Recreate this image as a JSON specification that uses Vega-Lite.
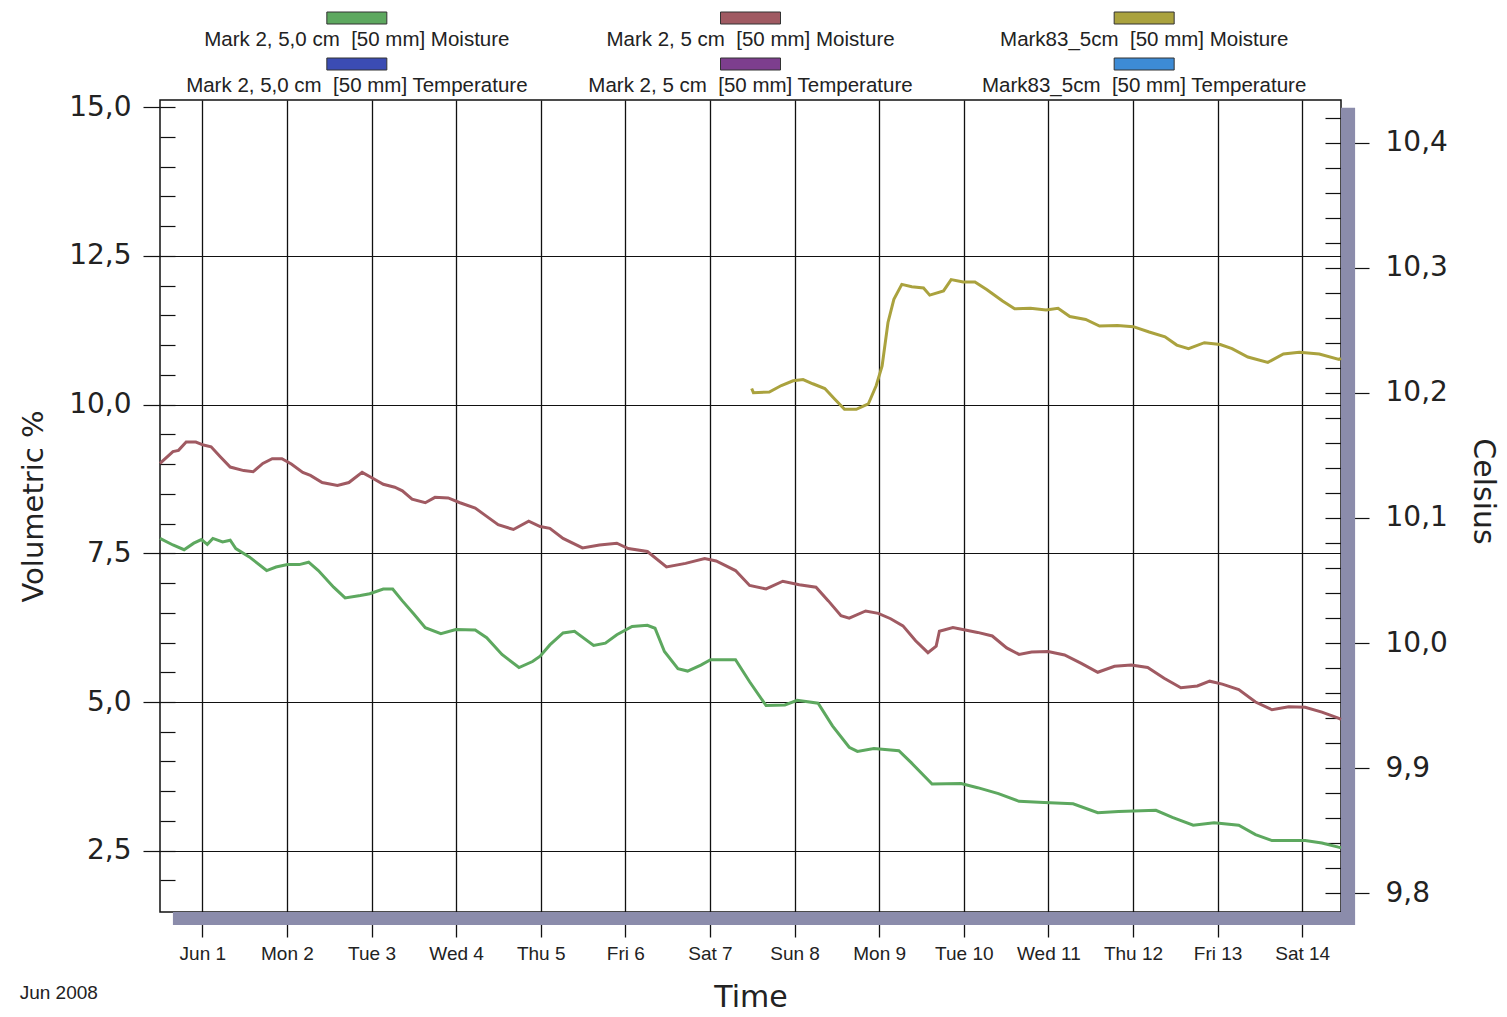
{
"$schema": "https://vega.github.io/schema/vega-lite/v6.json",
"width": 1181,
"height": 812,
"autosize": {"type": "none"},
"padding": {"left": 160, "top": 100, "right": 166, "bottom": 105},
"background": "white",
"config": {"view": {"stroke": "#111", "strokeWidth": 1.5, "fill": "white"}, "font": "Liberation Sans"},
"title": {"text": "Jun 2008", "orient": "bottom", "anchor": "start", "frame": "bounds", "offset": -28, "fontSize": 19, "font": "Liberation Sans", "fontWeight": "normal", "color": "#222"},
"datasets": {
"moisture": [
{"t":"2008-05-31T12:00","v":9.01,"series":"Mark 2, 5 cm [50 mm] Moisture"},
{"t":"2008-05-31T15:40","v":9.21,"series":"Mark 2, 5 cm [50 mm] Moisture"},
{"t":"2008-05-31T17:15","v":9.23,"series":"Mark 2, 5 cm [50 mm] Moisture"},
{"t":"2008-05-31T19:25","v":9.37,"series":"Mark 2, 5 cm [50 mm] Moisture"},
{"t":"2008-05-31T22:10","v":9.37,"series":"Mark 2, 5 cm [50 mm] Moisture"},
{"t":"2008-06-01T00:20","v":9.32,"series":"Mark 2, 5 cm [50 mm] Moisture"},
{"t":"2008-06-01T02:30","v":9.29,"series":"Mark 2, 5 cm [50 mm] Moisture"},
{"t":"2008-06-01T05:10","v":9.12,"series":"Mark 2, 5 cm [50 mm] Moisture"},
{"t":"2008-06-01T07:55","v":8.95,"series":"Mark 2, 5 cm [50 mm] Moisture"},
{"t":"2008-06-01T11:45","v":8.89,"series":"Mark 2, 5 cm [50 mm] Moisture"},
{"t":"2008-06-01T14:25","v":8.87,"series":"Mark 2, 5 cm [50 mm] Moisture"},
{"t":"2008-06-01T17:10","v":9.01,"series":"Mark 2, 5 cm [50 mm] Moisture"},
{"t":"2008-06-01T19:50","v":9.09,"series":"Mark 2, 5 cm [50 mm] Moisture"},
{"t":"2008-06-01T22:35","v":9.09,"series":"Mark 2, 5 cm [50 mm] Moisture"},
{"t":"2008-06-02T01:15","v":9.00,"series":"Mark 2, 5 cm [50 mm] Moisture"},
{"t":"2008-06-02T04:30","v":8.86,"series":"Mark 2, 5 cm [50 mm] Moisture"},
{"t":"2008-06-02T06:40","v":8.81,"series":"Mark 2, 5 cm [50 mm] Moisture"},
{"t":"2008-06-02T10:00","v":8.69,"series":"Mark 2, 5 cm [50 mm] Moisture"},
{"t":"2008-06-02T14:20","v":8.64,"series":"Mark 2, 5 cm [50 mm] Moisture"},
{"t":"2008-06-02T17:35","v":8.69,"series":"Mark 2, 5 cm [50 mm] Moisture"},
{"t":"2008-06-02T21:20","v":8.86,"series":"Mark 2, 5 cm [50 mm] Moisture"},
{"t":"2008-06-03T00:05","v":8.77,"series":"Mark 2, 5 cm [50 mm] Moisture"},
{"t":"2008-06-03T03:20","v":8.66,"series":"Mark 2, 5 cm [50 mm] Moisture"},
{"t":"2008-06-03T06:35","v":8.61,"series":"Mark 2, 5 cm [50 mm] Moisture"},
{"t":"2008-06-03T08:45","v":8.55,"series":"Mark 2, 5 cm [50 mm] Moisture"},
{"t":"2008-06-03T11:30","v":8.41,"series":"Mark 2, 5 cm [50 mm] Moisture"},
{"t":"2008-06-03T15:15","v":8.35,"series":"Mark 2, 5 cm [50 mm] Moisture"},
{"t":"2008-06-03T18:00","v":8.44,"series":"Mark 2, 5 cm [50 mm] Moisture"},
{"t":"2008-06-03T21:45","v":8.43,"series":"Mark 2, 5 cm [50 mm] Moisture"},
{"t":"2008-06-04T01:05","v":8.35,"series":"Mark 2, 5 cm [50 mm] Moisture"},
{"t":"2008-06-04T05:25","v":8.26,"series":"Mark 2, 5 cm [50 mm] Moisture"},
{"t":"2008-06-04T08:40","v":8.12,"series":"Mark 2, 5 cm [50 mm] Moisture"},
{"t":"2008-06-04T11:55","v":7.98,"series":"Mark 2, 5 cm [50 mm] Moisture"},
{"t":"2008-06-04T16:15","v":7.90,"series":"Mark 2, 5 cm [50 mm] Moisture"},
{"t":"2008-06-04T20:35","v":8.04,"series":"Mark 2, 5 cm [50 mm] Moisture"},
{"t":"2008-06-04T23:50","v":7.95,"series":"Mark 2, 5 cm [50 mm] Moisture"},
{"t":"2008-06-05T02:35","v":7.92,"series":"Mark 2, 5 cm [50 mm] Moisture"},
{"t":"2008-06-05T06:20","v":7.75,"series":"Mark 2, 5 cm [50 mm] Moisture"},
{"t":"2008-06-05T11:50","v":7.59,"series":"Mark 2, 5 cm [50 mm] Moisture"},
{"t":"2008-06-05T16:40","v":7.64,"series":"Mark 2, 5 cm [50 mm] Moisture"},
{"t":"2008-06-05T21:35","v":7.67,"series":"Mark 2, 5 cm [50 mm] Moisture"},
{"t":"2008-06-06T00:50","v":7.58,"series":"Mark 2, 5 cm [50 mm] Moisture"},
{"t":"2008-06-06T06:15","v":7.53,"series":"Mark 2, 5 cm [50 mm] Moisture"},
{"t":"2008-06-06T11:40","v":7.27,"series":"Mark 2, 5 cm [50 mm] Moisture"},
{"t":"2008-06-06T17:05","v":7.33,"series":"Mark 2, 5 cm [50 mm] Moisture"},
{"t":"2008-06-06T22:30","v":7.41,"series":"Mark 2, 5 cm [50 mm] Moisture"},
{"t":"2008-06-07T01:45","v":7.37,"series":"Mark 2, 5 cm [50 mm] Moisture"},
{"t":"2008-06-07T07:15","v":7.21,"series":"Mark 2, 5 cm [50 mm] Moisture"},
{"t":"2008-06-07T11:15","v":6.96,"series":"Mark 2, 5 cm [50 mm] Moisture"},
{"t":"2008-06-07T15:55","v":6.90,"series":"Mark 2, 5 cm [50 mm] Moisture"},
{"t":"2008-06-07T20:40","v":7.03,"series":"Mark 2, 5 cm [50 mm] Moisture"},
{"t":"2008-06-08T01:20","v":6.97,"series":"Mark 2, 5 cm [50 mm] Moisture"},
{"t":"2008-06-08T06:05","v":6.93,"series":"Mark 2, 5 cm [50 mm] Moisture"},
{"t":"2008-06-08T09:35","v":6.70,"series":"Mark 2, 5 cm [50 mm] Moisture"},
{"t":"2008-06-08T13:10","v":6.45,"series":"Mark 2, 5 cm [50 mm] Moisture"},
{"t":"2008-06-08T15:30","v":6.41,"series":"Mark 2, 5 cm [50 mm] Moisture"},
{"t":"2008-06-08T20:10","v":6.53,"series":"Mark 2, 5 cm [50 mm] Moisture"},
{"t":"2008-06-08T23:45","v":6.49,"series":"Mark 2, 5 cm [50 mm] Moisture"},
{"t":"2008-06-09T03:15","v":6.40,"series":"Mark 2, 5 cm [50 mm] Moisture"},
{"t":"2008-06-09T06:45","v":6.28,"series":"Mark 2, 5 cm [50 mm] Moisture"},
{"t":"2008-06-09T10:20","v":6.03,"series":"Mark 2, 5 cm [50 mm] Moisture"},
{"t":"2008-06-09T13:50","v":5.83,"series":"Mark 2, 5 cm [50 mm] Moisture"},
{"t":"2008-06-09T16:10","v":5.94,"series":"Mark 2, 5 cm [50 mm] Moisture"},
{"t":"2008-06-09T17:05","v":6.19,"series":"Mark 2, 5 cm [50 mm] Moisture"},
{"t":"2008-06-09T20:55","v":6.25,"series":"Mark 2, 5 cm [50 mm] Moisture"},
{"t":"2008-06-10T00:25","v":6.21,"series":"Mark 2, 5 cm [50 mm] Moisture"},
{"t":"2008-06-10T03:55","v":6.17,"series":"Mark 2, 5 cm [50 mm] Moisture"},
{"t":"2008-06-10T08:05","v":6.11,"series":"Mark 2, 5 cm [50 mm] Moisture"},
{"t":"2008-06-10T12:10","v":5.91,"series":"Mark 2, 5 cm [50 mm] Moisture"},
{"t":"2008-06-10T15:40","v":5.80,"series":"Mark 2, 5 cm [50 mm] Moisture"},
{"t":"2008-06-10T19:15","v":5.84,"series":"Mark 2, 5 cm [50 mm] Moisture"},
{"t":"2008-06-10T23:55","v":5.85,"series":"Mark 2, 5 cm [50 mm] Moisture"},
{"t":"2008-06-11T04:35","v":5.79,"series":"Mark 2, 5 cm [50 mm] Moisture"},
{"t":"2008-06-11T09:20","v":5.65,"series":"Mark 2, 5 cm [50 mm] Moisture"},
{"t":"2008-06-11T14:00","v":5.50,"series":"Mark 2, 5 cm [50 mm] Moisture"},
{"t":"2008-06-11T18:45","v":5.60,"series":"Mark 2, 5 cm [50 mm] Moisture"},
{"t":"2008-06-11T23:30","v":5.62,"series":"Mark 2, 5 cm [50 mm] Moisture"},
{"t":"2008-06-12T04:10","v":5.58,"series":"Mark 2, 5 cm [50 mm] Moisture"},
{"t":"2008-06-12T08:50","v":5.40,"series":"Mark 2, 5 cm [50 mm] Moisture"},
{"t":"2008-06-12T13:35","v":5.24,"series":"Mark 2, 5 cm [50 mm] Moisture"},
{"t":"2008-06-12T18:15","v":5.27,"series":"Mark 2, 5 cm [50 mm] Moisture"},
{"t":"2008-06-12T21:45","v":5.35,"series":"Mark 2, 5 cm [50 mm] Moisture"},
{"t":"2008-06-13T01:20","v":5.30,"series":"Mark 2, 5 cm [50 mm] Moisture"},
{"t":"2008-06-13T06:00","v":5.21,"series":"Mark 2, 5 cm [50 mm] Moisture"},
{"t":"2008-06-13T10:45","v":5.00,"series":"Mark 2, 5 cm [50 mm] Moisture"},
{"t":"2008-06-13T15:25","v":4.87,"series":"Mark 2, 5 cm [50 mm] Moisture"},
{"t":"2008-06-13T20:10","v":4.92,"series":"Mark 2, 5 cm [50 mm] Moisture"},
{"t":"2008-06-14T00:50","v":4.91,"series":"Mark 2, 5 cm [50 mm] Moisture"},
{"t":"2008-06-14T05:35","v":4.83,"series":"Mark 2, 5 cm [50 mm] Moisture"},
{"t":"2008-06-14T10:15","v":4.73,"series":"Mark 2, 5 cm [50 mm] Moisture"},
{"t":"2008-06-14T11:00","v":4.71,"series":"Mark 2, 5 cm [50 mm] Moisture"},
{"t":"2008-05-31T12:00","v":7.75,"series":"Mark 2, 5,0 cm [50 mm] Moisture"},
{"t":"2008-05-31T15:40","v":7.64,"series":"Mark 2, 5,0 cm [50 mm] Moisture"},
{"t":"2008-05-31T18:50","v":7.56,"series":"Mark 2, 5,0 cm [50 mm] Moisture"},
{"t":"2008-05-31T21:35","v":7.67,"series":"Mark 2, 5,0 cm [50 mm] Moisture"},
{"t":"2008-05-31T23:45","v":7.73,"series":"Mark 2, 5,0 cm [50 mm] Moisture"},
{"t":"2008-06-01T01:25","v":7.65,"series":"Mark 2, 5,0 cm [50 mm] Moisture"},
{"t":"2008-06-01T03:00","v":7.75,"series":"Mark 2, 5,0 cm [50 mm] Moisture"},
{"t":"2008-06-01T05:45","v":7.69,"series":"Mark 2, 5,0 cm [50 mm] Moisture"},
{"t":"2008-06-01T07:55","v":7.72,"series":"Mark 2, 5,0 cm [50 mm] Moisture"},
{"t":"2008-06-01T09:30","v":7.58,"series":"Mark 2, 5,0 cm [50 mm] Moisture"},
{"t":"2008-06-01T13:20","v":7.44,"series":"Mark 2, 5,0 cm [50 mm] Moisture"},
{"t":"2008-06-01T18:15","v":7.21,"series":"Mark 2, 5,0 cm [50 mm] Moisture"},
{"t":"2008-06-01T20:55","v":7.27,"series":"Mark 2, 5,0 cm [50 mm] Moisture"},
{"t":"2008-06-02T00:10","v":7.31,"series":"Mark 2, 5,0 cm [50 mm] Moisture"},
{"t":"2008-06-02T03:30","v":7.31,"series":"Mark 2, 5,0 cm [50 mm] Moisture"},
{"t":"2008-06-02T06:10","v":7.35,"series":"Mark 2, 5,0 cm [50 mm] Moisture"},
{"t":"2008-06-02T08:55","v":7.21,"series":"Mark 2, 5,0 cm [50 mm] Moisture"},
{"t":"2008-06-02T13:15","v":6.93,"series":"Mark 2, 5,0 cm [50 mm] Moisture"},
{"t":"2008-06-02T16:30","v":6.75,"series":"Mark 2, 5,0 cm [50 mm] Moisture"},
{"t":"2008-06-02T20:50","v":6.79,"series":"Mark 2, 5,0 cm [50 mm] Moisture"},
{"t":"2008-06-02T23:30","v":6.82,"series":"Mark 2, 5,0 cm [50 mm] Moisture"},
{"t":"2008-06-03T03:20","v":6.90,"series":"Mark 2, 5,0 cm [50 mm] Moisture"},
{"t":"2008-06-03T06:00","v":6.90,"series":"Mark 2, 5,0 cm [50 mm] Moisture"},
{"t":"2008-06-03T08:45","v":6.70,"series":"Mark 2, 5,0 cm [50 mm] Moisture"},
{"t":"2008-06-03T12:00","v":6.48,"series":"Mark 2, 5,0 cm [50 mm] Moisture"},
{"t":"2008-06-03T15:15","v":6.25,"series":"Mark 2, 5,0 cm [50 mm] Moisture"},
{"t":"2008-06-03T19:40","v":6.15,"series":"Mark 2, 5,0 cm [50 mm] Moisture"},
{"t":"2008-06-03T23:55","v":6.22,"series":"Mark 2, 5,0 cm [50 mm] Moisture"},
{"t":"2008-06-04T05:25","v":6.21,"series":"Mark 2, 5,0 cm [50 mm] Moisture"},
{"t":"2008-06-04T08:40","v":6.08,"series":"Mark 2, 5,0 cm [50 mm] Moisture"},
{"t":"2008-06-04T13:00","v":5.80,"series":"Mark 2, 5,0 cm [50 mm] Moisture"},
{"t":"2008-06-04T17:50","v":5.58,"series":"Mark 2, 5,0 cm [50 mm] Moisture"},
{"t":"2008-06-04T21:40","v":5.68,"series":"Mark 2, 5,0 cm [50 mm] Moisture"},
{"t":"2008-06-04T23:50","v":5.77,"series":"Mark 2, 5,0 cm [50 mm] Moisture"},
{"t":"2008-06-05T02:35","v":5.96,"series":"Mark 2, 5,0 cm [50 mm] Moisture"},
{"t":"2008-06-05T06:20","v":6.16,"series":"Mark 2, 5,0 cm [50 mm] Moisture"},
{"t":"2008-06-05T09:35","v":6.19,"series":"Mark 2, 5,0 cm [50 mm] Moisture"},
{"t":"2008-06-05T15:00","v":5.95,"series":"Mark 2, 5,0 cm [50 mm] Moisture"},
{"t":"2008-06-05T18:20","v":5.99,"series":"Mark 2, 5,0 cm [50 mm] Moisture"},
{"t":"2008-06-05T21:35","v":6.13,"series":"Mark 2, 5,0 cm [50 mm] Moisture"},
{"t":"2008-06-06T01:55","v":6.27,"series":"Mark 2, 5,0 cm [50 mm] Moisture"},
{"t":"2008-06-06T06:15","v":6.29,"series":"Mark 2, 5,0 cm [50 mm] Moisture"},
{"t":"2008-06-06T08:25","v":6.24,"series":"Mark 2, 5,0 cm [50 mm] Moisture"},
{"t":"2008-06-06T11:05","v":5.85,"series":"Mark 2, 5,0 cm [50 mm] Moisture"},
{"t":"2008-06-06T14:55","v":5.56,"series":"Mark 2, 5,0 cm [50 mm] Moisture"},
{"t":"2008-06-06T17:40","v":5.52,"series":"Mark 2, 5,0 cm [50 mm] Moisture"},
{"t":"2008-06-06T21:25","v":5.62,"series":"Mark 2, 5,0 cm [50 mm] Moisture"},
{"t":"2008-06-07T00:10","v":5.71,"series":"Mark 2, 5,0 cm [50 mm] Moisture"},
{"t":"2008-06-07T07:15","v":5.71,"series":"Mark 2, 5,0 cm [50 mm] Moisture"},
{"t":"2008-06-07T11:15","v":5.34,"series":"Mark 2, 5,0 cm [50 mm] Moisture"},
{"t":"2008-06-07T15:55","v":4.94,"series":"Mark 2, 5,0 cm [50 mm] Moisture"},
{"t":"2008-06-07T21:15","v":4.95,"series":"Mark 2, 5,0 cm [50 mm] Moisture"},
{"t":"2008-06-08T00:45","v":5.03,"series":"Mark 2, 5,0 cm [50 mm] Moisture"},
{"t":"2008-06-08T06:40","v":4.98,"series":"Mark 2, 5,0 cm [50 mm] Moisture"},
{"t":"2008-06-08T10:45","v":4.60,"series":"Mark 2, 5,0 cm [50 mm] Moisture"},
{"t":"2008-06-08T15:30","v":4.24,"series":"Mark 2, 5,0 cm [50 mm] Moisture"},
{"t":"2008-06-08T17:50","v":4.17,"series":"Mark 2, 5,0 cm [50 mm] Moisture"},
{"t":"2008-06-08T22:30","v":4.22,"series":"Mark 2, 5,0 cm [50 mm] Moisture"},
{"t":"2008-06-09T05:35","v":4.18,"series":"Mark 2, 5,0 cm [50 mm] Moisture"},
{"t":"2008-06-09T09:05","v":3.98,"series":"Mark 2, 5,0 cm [50 mm] Moisture"},
{"t":"2008-06-09T15:00","v":3.62,"series":"Mark 2, 5,0 cm [50 mm] Moisture"},
{"t":"2008-06-09T23:15","v":3.63,"series":"Mark 2, 5,0 cm [50 mm] Moisture"},
{"t":"2008-06-10T03:55","v":3.56,"series":"Mark 2, 5,0 cm [50 mm] Moisture"},
{"t":"2008-06-10T09:50","v":3.46,"series":"Mark 2, 5,0 cm [50 mm] Moisture"},
{"t":"2008-06-10T15:40","v":3.33,"series":"Mark 2, 5,0 cm [50 mm] Moisture"},
{"t":"2008-06-10T22:45","v":3.31,"series":"Mark 2, 5,0 cm [50 mm] Moisture"},
{"t":"2008-06-11T07:00","v":3.29,"series":"Mark 2, 5,0 cm [50 mm] Moisture"},
{"t":"2008-06-11T14:00","v":3.14,"series":"Mark 2, 5,0 cm [50 mm] Moisture"},
{"t":"2008-06-11T19:55","v":3.16,"series":"Mark 2, 5,0 cm [50 mm] Moisture"},
{"t":"2008-06-12T06:30","v":3.18,"series":"Mark 2, 5,0 cm [50 mm] Moisture"},
{"t":"2008-06-12T11:10","v":3.06,"series":"Mark 2, 5,0 cm [50 mm] Moisture"},
{"t":"2008-06-12T17:05","v":2.93,"series":"Mark 2, 5,0 cm [50 mm] Moisture"},
{"t":"2008-06-12T23:00","v":2.97,"series":"Mark 2, 5,0 cm [50 mm] Moisture"},
{"t":"2008-06-13T06:00","v":2.93,"series":"Mark 2, 5,0 cm [50 mm] Moisture"},
{"t":"2008-06-13T10:45","v":2.77,"series":"Mark 2, 5,0 cm [50 mm] Moisture"},
{"t":"2008-06-13T15:25","v":2.67,"series":"Mark 2, 5,0 cm [50 mm] Moisture"},
{"t":"2008-06-14T00:50","v":2.67,"series":"Mark 2, 5,0 cm [50 mm] Moisture"},
{"t":"2008-06-14T05:35","v":2.63,"series":"Mark 2, 5,0 cm [50 mm] Moisture"},
{"t":"2008-06-14T10:15","v":2.56,"series":"Mark 2, 5,0 cm [50 mm] Moisture"},
{"t":"2008-06-14T11:00","v":2.55,"series":"Mark 2, 5,0 cm [50 mm] Moisture"},
{"t":"2008-06-07T11:50","v":10.27,"series":"Mark83_5cm [50 mm] Moisture"},
{"t":"2008-06-07T12:20","v":10.20,"series":"Mark83_5cm [50 mm] Moisture"},
{"t":"2008-06-07T16:50","v":10.21,"series":"Mark83_5cm [50 mm] Moisture"},
{"t":"2008-06-07T20:15","v":10.32,"series":"Mark83_5cm [50 mm] Moisture"},
{"t":"2008-06-07T23:35","v":10.40,"series":"Mark83_5cm [50 mm] Moisture"},
{"t":"2008-06-08T02:25","v":10.42,"series":"Mark83_5cm [50 mm] Moisture"},
{"t":"2008-06-08T05:10","v":10.35,"series":"Mark83_5cm [50 mm] Moisture"},
{"t":"2008-06-08T08:35","v":10.27,"series":"Mark83_5cm [50 mm] Moisture"},
{"t":"2008-06-08T11:25","v":10.09,"series":"Mark83_5cm [50 mm] Moisture"},
{"t":"2008-06-08T14:10","v":9.92,"series":"Mark83_5cm [50 mm] Moisture"},
{"t":"2008-06-08T17:30","v":9.92,"series":"Mark83_5cm [50 mm] Moisture"},
{"t":"2008-06-08T20:55","v":10.01,"series":"Mark83_5cm [50 mm] Moisture"},
{"t":"2008-06-08T23:10","v":10.32,"series":"Mark83_5cm [50 mm] Moisture"},
{"t":"2008-06-09T00:50","v":10.65,"series":"Mark83_5cm [50 mm] Moisture"},
{"t":"2008-06-09T02:30","v":11.38,"series":"Mark83_5cm [50 mm] Moisture"},
{"t":"2008-06-09T04:10","v":11.77,"series":"Mark83_5cm [50 mm] Moisture"},
{"t":"2008-06-09T06:25","v":12.02,"series":"Mark83_5cm [50 mm] Moisture"},
{"t":"2008-06-09T09:15","v":11.98,"series":"Mark83_5cm [50 mm] Moisture"},
{"t":"2008-06-09T12:35","v":11.96,"series":"Mark83_5cm [50 mm] Moisture"},
{"t":"2008-06-09T14:20","v":11.84,"series":"Mark83_5cm [50 mm] Moisture"},
{"t":"2008-06-09T18:15","v":11.91,"series":"Mark83_5cm [50 mm] Moisture"},
{"t":"2008-06-09T20:25","v":12.10,"series":"Mark83_5cm [50 mm] Moisture"},
{"t":"2008-06-09T23:50","v":12.06,"series":"Mark83_5cm [50 mm] Moisture"},
{"t":"2008-06-10T03:10","v":12.06,"series":"Mark83_5cm [50 mm] Moisture"},
{"t":"2008-06-10T06:35","v":11.93,"series":"Mark83_5cm [50 mm] Moisture"},
{"t":"2008-06-10T11:00","v":11.74,"series":"Mark83_5cm [50 mm] Moisture"},
{"t":"2008-06-10T14:25","v":11.61,"series":"Mark83_5cm [50 mm] Moisture"},
{"t":"2008-06-10T18:55","v":11.62,"series":"Mark83_5cm [50 mm] Moisture"},
{"t":"2008-06-10T23:20","v":11.59,"series":"Mark83_5cm [50 mm] Moisture"},
{"t":"2008-06-11T02:45","v":11.62,"series":"Mark83_5cm [50 mm] Moisture"},
{"t":"2008-06-11T06:05","v":11.48,"series":"Mark83_5cm [50 mm] Moisture"},
{"t":"2008-06-11T10:35","v":11.43,"series":"Mark83_5cm [50 mm] Moisture"},
{"t":"2008-06-11T14:30","v":11.32,"series":"Mark83_5cm [50 mm] Moisture"},
{"t":"2008-06-11T19:35","v":11.33,"series":"Mark83_5cm [50 mm] Moisture"},
{"t":"2008-06-12T00:05","v":11.31,"series":"Mark83_5cm [50 mm] Moisture"},
{"t":"2008-06-12T04:35","v":11.22,"series":"Mark83_5cm [50 mm] Moisture"},
{"t":"2008-06-12T09:05","v":11.14,"series":"Mark83_5cm [50 mm] Moisture"},
{"t":"2008-06-12T12:25","v":11.00,"series":"Mark83_5cm [50 mm] Moisture"},
{"t":"2008-06-12T15:45","v":10.94,"series":"Mark83_5cm [50 mm] Moisture"},
{"t":"2008-06-12T20:15","v":11.04,"series":"Mark83_5cm [50 mm] Moisture"},
{"t":"2008-06-13T00:45","v":11.01,"series":"Mark83_5cm [50 mm] Moisture"},
{"t":"2008-06-13T04:05","v":10.94,"series":"Mark83_5cm [50 mm] Moisture"},
{"t":"2008-06-13T08:35","v":10.80,"series":"Mark83_5cm [50 mm] Moisture"},
{"t":"2008-06-13T14:15","v":10.71,"series":"Mark83_5cm [50 mm] Moisture"},
{"t":"2008-06-13T18:40","v":10.85,"series":"Mark83_5cm [50 mm] Moisture"},
{"t":"2008-06-13T23:10","v":10.88,"series":"Mark83_5cm [50 mm] Moisture"},
{"t":"2008-06-14T04:50","v":10.85,"series":"Mark83_5cm [50 mm] Moisture"},
{"t":"2008-06-14T10:25","v":10.76,"series":"Mark83_5cm [50 mm] Moisture"},
{"t":"2008-06-14T11:00","v":10.78,"series":"Mark83_5cm [50 mm] Moisture"}
],
"legend": [
{"series":"Mark 2, 5,0 cm [50 mm] Moisture","label":"Mark 2, 5,0 cm\u00a0 [50 mm] Moisture","col":1,"row":"Moisture"},
{"series":"Mark 2, 5,0 cm [50 mm] Temperature","label":"Mark 2, 5,0 cm\u00a0 [50 mm] Temperature","col":1,"row":"Temperature"},
{"series":"Mark 2, 5 cm [50 mm] Moisture","label":"Mark 2, 5 cm\u00a0 [50 mm] Moisture","col":2,"row":"Moisture"},
{"series":"Mark 2, 5 cm [50 mm] Temperature","label":"Mark 2, 5 cm\u00a0 [50 mm] Temperature","col":2,"row":"Temperature"},
{"series":"Mark83_5cm [50 mm] Moisture","label":"Mark83_5cm\u00a0 [50 mm] Moisture","col":3,"row":"Moisture"},
{"series":"Mark83_5cm [50 mm] Temperature","label":"Mark83_5cm\u00a0 [50 mm] Temperature","col":3,"row":"Temperature"}
]
},
"resolve": {"scale": {"x": "independent", "y": "independent"}},
"layer": [
{
"data": {"values": [{}]},
"mark": {"type": "rect", "color": "#8b8cab"},
"encoding": {
"x": {"datum": {"year":2008,"month":5,"date":31,"hours":15,"minutes":40}, "type": "temporal", "scale": {"domain": [{"year":2008,"month":5,"date":31,"hours":12},{"year":2008,"month":6,"date":14,"hours":11}], "nice": false}, "axis": null},
"x2": {"datum": {"year":2008,"month":6,"date":14,"hours":15}},
"y": {"datum": 1.47, "type": "quantitative", "scale": {"domain": [1.47, 15.12], "nice": false, "zero": false}, "axis": null},
"y2": {"datum": 1.25}
}
},
{
"data": {"values": [{}]},
"mark": {"type": "rect", "color": "#8b8cab"},
"encoding": {
"x": {"datum": {"year":2008,"month":6,"date":14,"hours":11}, "type": "temporal", "scale": {"domain": [{"year":2008,"month":5,"date":31,"hours":12},{"year":2008,"month":6,"date":14,"hours":11}], "nice": false}, "axis": null},
"x2": {"datum": {"year":2008,"month":6,"date":14,"hours":15}},
"y": {"datum": 1.47, "type": "quantitative", "scale": {"domain": [1.47, 15.12], "nice": false, "zero": false}, "axis": null},
"y2": {"datum": 14.99}
}
},
{
"data": {"name": "moisture"},
"mark": {"type": "line", "strokeWidth": 3},
"encoding": {
"x": {"field": "t", "type": "temporal",
"scale": {"domain": [{"year":2008,"month":5,"date":31,"hours":12},{"year":2008,"month":6,"date":14,"hours":11}], "nice": false},
"axis": {"values": [{"year":2008,"month":6,"date":1},{"year":2008,"month":6,"date":2},{"year":2008,"month":6,"date":3},{"year":2008,"month":6,"date":4},{"year":2008,"month":6,"date":5},{"year":2008,"month":6,"date":6},{"year":2008,"month":6,"date":7},{"year":2008,"month":6,"date":8},{"year":2008,"month":6,"date":9},{"year":2008,"month":6,"date":10},{"year":2008,"month":6,"date":11},{"year":2008,"month":6,"date":12},{"year":2008,"month":6,"date":13},{"year":2008,"month":6,"date":14}],
"labelExpr": "date(datum.value) == 1 ? 'Jun 1' : timeFormat(datum.value, '%a') + ' ' + date(datum.value)",
"labelFlush": false, "labelOverlap": false, "labelAngle": 0,
"grid": true, "gridColor": "#111", "gridWidth": 1.3,
"tickSize": 25, "tickColor": "#111", "tickWidth": 1.3,
"labelPadding": 7, "labelFontSize": 19, "labelFont": "Liberation Sans", "labelColor": "#222",
"title": "Time", "titleFontSize": 30, "titleFont": "DejaVu Sans", "titleFontWeight": "normal", "titleColor": "#222", "titlePadding": 19,
"domain": false}},
"y": {"field": "v", "type": "quantitative",
"scale": {"domain": [1.47, 15.12], "nice": false, "zero": false},
"axis": {"orient": "left", "values": [2.5, 5, 7.5, 10, 12.5, 15],
"labelExpr": "replace(format(datum.value, '.1f'), '.', ',')",
"grid": true, "gridColor": "#111", "gridWidth": 1.2,
"gridOpacity": {"condition": {"test": "datum.value >= 15", "value": 0}, "value": 1},
"tickSize": 17, "tickColor": "#111", "tickWidth": 1.2,
"labelPadding": 12, "labelFontSize": 28, "labelFont": "DejaVu Sans", "labelColor": "#222",
"title": "Volumetric %", "titleFontSize": 29, "titleFont": "DejaVu Sans", "titleFontWeight": "normal", "titleColor": "#222", "titlePadding": 20,
"domain": false}},
"color": {"field": "series", "type": "nominal",
"scale": {"domain": ["Mark 2, 5,0 cm [50 mm] Moisture","Mark 2, 5,0 cm [50 mm] Temperature","Mark 2, 5 cm [50 mm] Moisture","Mark 2, 5 cm [50 mm] Temperature","Mark83_5cm [50 mm] Moisture","Mark83_5cm [50 mm] Temperature"],
"range": ["#5da85f","#3b4cb3","#a05a62","#7d3e8e","#aaa23e","#3d8bd5"]},
"legend": null}
}
},
{
"data": {"values": [{}]},
"mark": {"type": "rule", "opacity": 0},
"encoding": {
"y": {"datum": 5, "type": "quantitative", "scale": {"domain": [1.47, 15.12], "nice": false, "zero": false},
"axis": {"orient": "left", "values": [2, 2.5, 3, 3.5, 4, 4.5, 5, 5.5, 6, 6.5, 7, 7.5, 8, 8.5, 9, 9.5, 10, 10.5, 11, 11.5, 12, 12.5, 13, 13.5, 14, 14.5, 15],
"labels": false, "grid": false, "domain": false, "title": null,
"tickSize": -15, "tickColor": "#111", "tickWidth": 1.2}}
}
},
{
"data": {"values": [{}]},
"mark": {"type": "rule", "opacity": 0},
"encoding": {
"y": {"datum": 10, "type": "quantitative", "scale": {"domain": [9.785, 10.434], "nice": false, "zero": false},
"axis": {"orient": "right", "values": [9.8, 9.9, 10.0, 10.1, 10.2, 10.3, 10.4],
"labelExpr": "replace(format(datum.value, '.1f'), '.', ',')",
"grid": false, "domain": false,
"tickSize": 28, "tickColor": "#111", "tickWidth": 1.2,
"labelPadding": 16, "labelFontSize": 28, "labelFont": "DejaVu Sans", "labelColor": "#222",
"title": "Celsius", "titleFontSize": 30, "titleFont": "DejaVu Sans", "titleFontWeight": "normal", "titleColor": "#222", "titlePadding": 20, "titleY": 391}}
}
},
{
"data": {"values": [{}]},
"mark": {"type": "rule", "opacity": 0},
"encoding": {
"y": {"datum": 10, "type": "quantitative", "scale": {"domain": [9.785, 10.434], "nice": false, "zero": false},
"axis": {"orient": "right", "values": [9.8, 9.82, 9.84, 9.86, 9.88, 9.9, 9.92, 9.94, 9.96, 9.98, 10.0, 10.02, 10.04, 10.06, 10.08, 10.1, 10.12, 10.14, 10.16, 10.18, 10.2, 10.22, 10.24, 10.26, 10.28, 10.3, 10.32, 10.34, 10.36, 10.38, 10.4, 10.42],
"labels": false, "grid": false, "domain": false, "title": null,
"tickSize": -16, "tickColor": "#111", "tickWidth": 1.2}}
}
},
{
"data": {"name": "legend"},
"mark": {"type": "point", "shape": "M-1,-0.2H1V0.2H-1Z", "size": 3600, "filled": true, "opacity": 1, "stroke": "#333", "strokeWidth": 1},
"encoding": {
"x": {"field": "col", "type": "ordinal", "scale": {"type": "point", "padding": 0.5}, "axis": null},
"y": {"field": "row", "type": "nominal", "scale": {"type": "point", "domain": ["Moisture", "Temperature"], "range": [-82, -36], "padding": 0}, "axis": null},
"color": {"field": "series", "type": "nominal", "legend": null}
}
},
{
"data": {"name": "legend"},
"mark": {"type": "text", "dy": 22, "fontSize": 20.5, "font": "Liberation Sans", "color": "#222"},
"encoding": {
"x": {"field": "col", "type": "ordinal", "scale": {"type": "point", "padding": 0.5}, "axis": null},
"y": {"field": "row", "type": "nominal", "scale": {"type": "point", "domain": ["Moisture", "Temperature"], "range": [-82, -36], "padding": 0}, "axis": null},
"text": {"field": "label"}
}
}
]
}
